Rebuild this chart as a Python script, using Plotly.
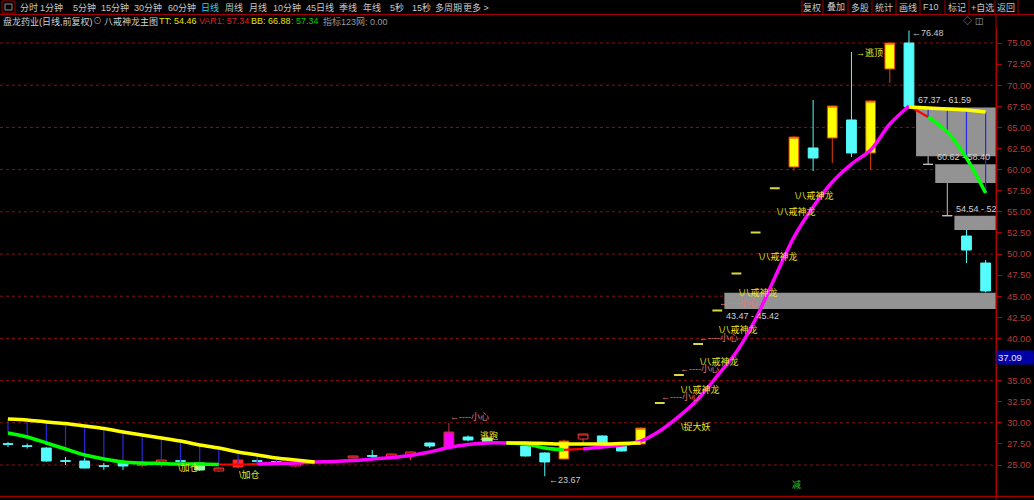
import plotly.graph_objects as go

# ---------------- canvas ----------------
W, H = 1034, 500
ML, MR, MT, MB = 0, 38, 28, 5
PW, PH = W - ML - MR, H - MT - MB
Y_LO, Y_HI = 21.445, 76.777
X_LO, X_HI = -0.417, 51.54

FONT = "Liberation Sans, Noto Sans CJK SC, sans-serif"

# ---------------- data ----------------
opens = [27.52, 27.27, 27.01, 25.50, 25.47, 24.90, 25.24, 24.98, 25.24, 25.50,
         24.41, 24.29, 24.76, 25.50, 25.40, 24.88, 25.30, 25.35, 25.83, 26.10,
         25.95, 26.18, 27.61, 27.13, 28.32, 27.61, 27.55, 27.25, 26.42, 25.71,
         28.08, 28.44, 27.25, 27.49, 32.35, 35.66, 39.34, 43.30, 47.70, 52.55,
         57.80, 60.31, 62.56, 63.74, 65.88, 61.97, 71.92, 75.00, 60.62, 54.54,
         52.13, 48.93]
highs = [27.73, 27.55, 27.10, 25.95, 25.83, 25.24, 25.59, 25.24, 25.65, 25.83,
         25.40, 24.70, 25.70, 25.70, 25.60, 25.40, 25.45, 25.50, 26.10, 26.78,
         26.35, 26.60, 27.65, 29.98, 28.50, 28.40, 27.70, 27.30, 26.50, 28.00,
         28.70, 28.50, 27.73, 29.45, 32.35, 35.66, 39.34, 43.30, 47.70, 52.55,
         57.80, 64.00, 68.25, 67.60, 73.93, 68.20, 75.05, 76.48, 61.59, 58.40,
         52.84, 49.29]
lows = [27.13, 26.95, 25.40, 25.00, 24.60, 24.41, 24.41, 24.76, 24.76, 25.12,
        24.30, 24.20, 24.60, 25.30, 25.20, 24.80, 25.25, 25.30, 25.80, 25.71,
        25.90, 25.59, 27.01, 27.00, 27.80, 27.50, 27.50, 26.00, 23.67, 25.60,
        27.61, 27.55, 26.60, 27.40, 32.35, 35.66, 39.34, 43.30, 47.70, 52.55,
        57.80, 59.90, 59.83, 60.78, 61.49, 59.95, 70.26, 67.37, 60.62, 54.54,
        48.93, 45.45]
closes = [27.46, 27.22, 25.47, 25.45, 24.64, 24.86, 24.88, 25.02, 25.59, 25.45,
          25.24, 24.64, 25.59, 25.45, 25.35, 25.24, 25.40, 25.45, 26.07, 26.05,
          26.30, 26.54, 27.25, 28.91, 27.96, 28.20, 27.65, 26.07, 25.36, 27.84,
          28.67, 27.61, 26.66, 29.38, 32.35, 35.66, 39.34, 43.30, 47.70, 52.55,
          57.80, 63.86, 61.37, 67.54, 61.97, 68.13, 75.00, 67.45, 60.62, 54.54,
          50.47, 45.62]
# candle category as painted by the indicator
candle_kind = ["down", "down", "down", "down", "down", "down", "down", "up", "up", "down",
               "green", "up", "upfill", "down", "down", "up", "up", "up", "up", "down",
               "up", "up", "down", "magenta", "down", "green", "up", "down", "down", "yellow",
               "up", "down", "down", "yellow", "limit", "limit", "limit", "limit", "limit", "limit",
               "limit", "yellow", "down", "yellow", "down", "yellow", "yellow", "down", "flat", "flat",
               "down", "down"]

ma_short = [28.79, 28.32, 27.61, 26.90, 26.18, 25.71, 25.36, 25.24, 25.18, 25.12,
            25.12, 25.06, 25.06, 25.12, 25.18, 25.24, 25.36, 25.41, 25.53, 25.71,
            25.89, 26.13, 26.54, 27.07, 27.43, 27.61, 27.61, 27.49, 27.01, 26.78,
            26.90, 27.13, 27.37, 27.84, 29.03, 30.75, 32.82, 35.55, 38.39, 42.30,
            47.20, 52.01, 55.57, 58.53, 60.66, 62.32, 65.40, 67.54, 66.23, 64.45,
            61.37, 57.23]
# state of each segment of the short line (i -> i+1)
ma_trend = (["fall"] * 11 + ["turn"] * 2 + ["rise"] * 13 + ["fall"] * 3 + ["turn"]
            + ["rise"] * 17 + ["turn"] + ["fall"] * 3)
ma_long = [30.45, 30.33, 30.09, 29.92, 29.62, 29.32, 28.91, 28.55, 28.20, 27.84,
           27.37, 27.01, 26.54, 26.18, 25.83, 25.59, 25.36, None, None, None,
           None, None, None, None, None, None, 27.61, 27.61, 27.55, 27.49,
           27.49, 27.49, 27.55, 27.61, None, None, None, None, None, None,
           None, None, None, None, None, None, None, 67.42, 67.30, 67.18,
           67.06, 66.82]
band_days = list(range(0, 16)) + [48, 49, 50, 51]

gap_start = [37, 47, 48, 49]
gap_a = [43.47, 67.37, 60.62, 54.54]
gap_b = [45.42, 61.59, 58.40, 52.84]
gap_text = ["43.47 - 45.42", "67.37 - 61.59", "60.62 - 58.40", "54.54 - 52"]

signal_text = ["\\捉大妖", "\\八戒神龙", "\\八戒神龙", "\\八戒神龙", "\\八戒神龙",
               "\\八戒神龙", "\\八戒神龙", "\\八戒神龙"]
signal_x = [35.0, 35.0, 36.0, 37.0, 38.03, 39.07, 40.0, 40.95]
signal_y = [29.62, 33.89, 37.32, 41.11, 45.38, 49.76, 54.98, 56.99]

caution_text = "←----小心"
caution_x = [22.95, 33.96, 34.95, 35.94, 36.99]
caution_y = [30.69, 33.06, 36.37, 40.05, 44.19]

mark_text = ["逃跑", "\\加仓", "\\加仓", "→逃顶"]
mark_x = [24.52, 8.76, 11.95, 44.15]
mark_y = [28.44, 24.76, 23.93, 73.93]

extreme_text = ["←76.48", "←23.67"]
extreme_x = [47.05, 28.12]
extreme_y = [76.18, 23.22]

price_ticks = [25.0 + 2.5 * k for k in range(21)]
grid_levels = [25, 30, 35, 40, 45, 50, 55, 60, 65, 70, 75]
cursor_price = 37.09

tabs = ["分时", "1分钟", "5分钟", "15分钟", "30分钟", "60分钟", "日线", "周线", "月线",
        "10分钟", "45日线", "季线", "年线", "5秒", "15秒", "多周期", "更多 >"]
buttons = ["复权", "叠加", "多股", "统计", "画线", "F10", "标记", "+自选", "返回"]
info_parts = ["盘龙药业(日线,前复权)", "⊙", "八戒神龙主图", "TT: 54.46", "VAR1: 57.34",
              "BB: 66.88", ": 57.34", "指标123网: 0.00"]

# ---------------- layout helpers ----------------
tab_left = [19, 39, 72, 100, 133, 167, 200, 224, 248, 272, 305, 338, 362, 389, 411, 434, 462]
btn_center = [812, 836, 860, 884, 908, 931, 957, 982, 1006]
btn_sep = [802, 823, 848, 872, 896, 920, 945, 969, 995, 1018]
info_left = [2, 92, 103, 158, 198, 250, 290, 322]
info_color = ["#d2d2d2", "#8a8a8a", "#d2d2d2", "#e6e600", "#dd2222", "#e6e600", "#00cc00", "#9a9a9a"]


def px(xp):
    return (xp - ML) / PW


def py(yp):
    return (H - MB - yp) / PH


fig = go.Figure()

styles = {
    "down": ("#54fcfc", "#54fcfc", 1),
    "up": ("#000000", "#ff3232", 1),
    "upfill": ("#ff2a2a", "#ff2a2a", 1),
    "yellow": ("#ffff00", "#e04000", 1),
    "magenta": ("#ff00ff", "#c03040", 1),
    "green": ("#9cff9c", "#9cff9c", 1),
    "limit": ("#dada3a", "#dada3a", 2),
    "flat": ("#c0c0c0", "#c0c0c0", 1),
}
for kind, (fillc, linec, lw) in styles.items():
    idx = [i for i, k in enumerate(candle_kind) if k == kind]
    if not idx:
        continue
    fig.add_trace(go.Candlestick(
        x=idx,
        open=[opens[i] for i in idx], high=[highs[i] for i in idx],
        low=[lows[i] for i in idx], close=[closes[i] for i in idx],
        increasing=dict(fillcolor=fillc, line=dict(color=linec, width=lw)),
        decreasing=dict(fillcolor=fillc, line=dict(color=linec, width=lw)),
        whiskerwidth=0, hoverinfo="skip", showlegend=False))

# blue band verticals between the two lines
bx, by = [], []
for i in band_days:
    if ma_long[i] is not None:
        bx += [i, i, None]
        by += [ma_long[i], ma_short[i], None]
fig.add_trace(go.Scatter(x=bx, y=by, mode="lines", line=dict(color="#2a2ad8", width=1.2),
                         hoverinfo="skip", showlegend=False))

# short line, coloured by state
trend_color = {"fall": "#00ff00", "turn": "#ff0000", "rise": "#ff00ff"}
trend_width = {"fall": 3.5, "turn": 2.2, "rise": 3.5}
start = 0
for j in range(1, len(ma_trend) + 1):
    if j == len(ma_trend) or ma_trend[j] != ma_trend[start]:
        st = ma_trend[start]
        fig.add_trace(go.Scatter(x=list(range(start, j + 1)), y=ma_short[start:j + 1], mode="lines",
                                 line=dict(color=trend_color[st], width=trend_width[st],
                                           shape="spline", smoothing=0.8),
                                 hoverinfo="skip", showlegend=False))
        start = j

# long line
fig.add_trace(go.Scatter(x=list(range(len(ma_long))), y=ma_long, mode="lines",
                         line=dict(color="#ffff00", width=3.5, shape="spline", smoothing=0.8),
                         connectgaps=False, hoverinfo="skip", showlegend=False))

shapes = []
# dotted grid
for g in grid_levels:
    shapes.append(dict(type="line", xref="paper", x0=0, x1=1, yref="y", y0=g, y1=g,
                       line=dict(color="#8a1010", width=1, dash="dot"), layer="below"))
# gap boxes
for s, a, b in zip(gap_start, gap_a, gap_b):
    shapes.append(dict(type="rect", xref="x", x0=s + 0.37, x1=X_HI, yref="y", y0=min(a, b), y1=max(a, b),
                       fillcolor="#939393", line=dict(width=0), layer="between"))
# frame lines
shapes.append(dict(type="line", xref="paper", yref="paper", x0=0, x1=W / PW, y0=py(14.5), y1=py(14.5),
                   line=dict(color="#a00000", width=1)))
shapes.append(dict(type="line", xref="paper", yref="paper", x0=0, x1=W / PW, y0=py(496.5), y1=py(496.5),
                   line=dict(color="#a00000", width=1.5)))
shapes.append(dict(type="line", xref="paper", yref="paper", x0=1, x1=1, y0=py(15), y1=py(500),
                   line=dict(color="#b00000", width=1)))
for sx in btn_sep:
    shapes.append(dict(type="line", xref="paper", yref="paper", x0=px(sx), x1=px(sx), y0=py(0), y1=py(14),
                       line=dict(color="#a00000", width=1)))
shapes.append(dict(type="rect", xref="paper", yref="paper", x0=px(2), x1=px(15), y0=py(13), y1=py(1),
                   line=dict(color="#a00000", width=1)))
shapes.append(dict(type="rect", xref="paper", yref="paper", x0=px(5), x1=px(12), y0=py(10), y1=py(4),
                   line=dict(color="#909090", width=1)))

ann = []


def txt(x, y, text, color, size=9, xref="x", yref="y", xanchor="left", **kw):
    d = dict(x=x, y=y, xref=xref, yref=yref, text=text, showarrow=False, xanchor=xanchor,
             yanchor=kw.pop("yanchor", "middle"), font=dict(family=FONT, size=size, color=color))
    d.update(kw)
    ann.append(d)


for t, x, y in zip(signal_text, signal_x, signal_y):
    txt(x, y, t, "#e8e828")
for x, y in zip(caution_x, caution_y):
    txt(x, y, caution_text, "#e07a7a")
for t, x, y in zip(mark_text, mark_x, mark_y):
    txt(x, y, t, "#e8e828")
for t, x, y in zip(extreme_text, extreme_x, extreme_y):
    txt(x, y, t, "#c8c8c8")
for s, a, b, t in zip(gap_start, gap_a, gap_b, gap_text):
    if a < b:
        txt(s + 0.37, min(a, b), t, "#d0d0d0", yanchor="top")
    else:
        txt(s + 0.37, max(a, b), t, "#d0d0d0", yanchor="bottom")
txt(40.79, 22.65, "减", "#22cc22", size=9)

# cursor price tag
ann.append(dict(xref="paper", x=1.0, yref="y", y=cursor_price, yshift=5, text=f"{cursor_price:.2f}",
                showarrow=False, xanchor="left", yanchor="middle", bgcolor="#0000a8", width=34, align="left",
                borderpad=1, font=dict(family=FONT, size=9.5, color="#e8e8ff")))

# header
for t, x in zip(tabs, tab_left):
    txt(px(x - 1), py(7), t, "#33ccee" if t == "日线" else "#c8c8c8", xref="paper", yref="paper")
for t, x in zip(buttons, btn_center):
    txt(px(x), py(7), t, "#c8c8c8", xref="paper", yref="paper", xanchor="center")
for t, x, c in zip(info_parts, info_left, info_color):
    txt(px(x - 1), py(21), t, c, xref="paper", yref="paper")
txt(px(961), py(21), "◇ ◫", "#a0a0a0", xref="paper", yref="paper")

fig.update_layout(
    width=W, height=H, margin=dict(l=ML, r=MR, t=MT, b=MB),
    paper_bgcolor="#000000", plot_bgcolor="#000000",
    showlegend=False, hovermode=False, boxgap=0.27,
    shapes=shapes, annotations=ann,
    xaxis=dict(range=[X_LO, X_HI], visible=False, rangeslider=dict(visible=False), fixedrange=True),
    yaxis=dict(range=[Y_LO, Y_HI], side="right", showgrid=False, zeroline=False,
               showline=True, linecolor="#b00000", linewidth=1,
               tickmode="array", tickvals=price_ticks, ticktext=[f"{v:.2f}" for v in price_ticks],
               ticks="outside", ticklen=5, tickcolor="#b00000", ticklabelstandoff=3,
               tickfont=dict(family=FONT, size=9.5, color="#b83a3a"), fixedrange=True),
)

fig.write_html("out.html", config={"displayModeBar": False},
               post_script="document.body.style.margin='0';document.body.style.background='#000';")
